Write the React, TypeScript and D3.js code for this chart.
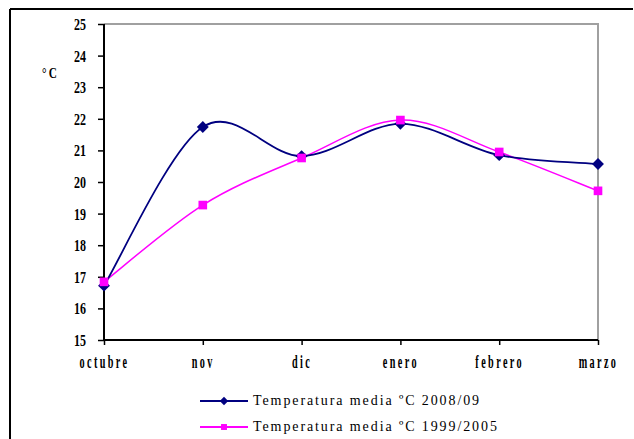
import React, { useEffect, useRef } from "react";
import * as d3 from "d3";

const months = ["octubre", "nov", "dic", "enero", "febrero", "marzo"];
const temp2008 = [16.72, 21.74, 20.82, 21.84, 20.85, 20.57];
const temp1999 = [16.84, 19.27, 20.76, 21.96, 20.95, 19.72];
const yTicks = [15, 16, 17, 18, 19, 20, 21, 22, 23, 24, 25];
const seriesNames = ["Temperatura media ºC 2008/09", "Temperatura media ºC 1999/2005"];

// Excel-style smoothed line: bezier control points at 1/6 of neighbour chord
const smoothPath = (pts: [number, number][]) => {
    const path = d3.path();
    path.moveTo(pts[0][0], pts[0][1]);
    for (let i = 0; i < pts.length - 1; i++) {
        const p0 = pts[Math.max(i - 1, 0)];
        const p1 = pts[i];
        const p2 = pts[i + 1];
        const p3 = pts[Math.min(i + 2, pts.length - 1)];
        path.bezierCurveTo(
            p1[0] + (p2[0] - p0[0]) / 6, p1[1] + (p2[1] - p0[1]) / 6,
            p2[0] - (p3[0] - p1[0]) / 6, p2[1] - (p3[1] - p1[1]) / 6,
            p2[0], p2[1]
        );
    }
    return path.toString();
};

const App: React.FC = () => {
    const svgRef = useRef<SVGSVGElement>(null);

    const width = 634;
    const height = 439;
    const plot = { left: 104, right: 598, top: 24, bottom: 340 };
    const navy = "#000080";
    const magenta = "#FF00FF";
    const serif = "'Liberation Serif', 'Times New Roman', serif";

    useEffect(() => {
        if (!svgRef.current) return;
        const svg = d3.select(svgRef.current);
        svg.selectAll("*").remove();

        const x = d3.scalePoint<string>().domain(months).range([plot.left, plot.right]);
        const y = d3.scaleLinear().domain([15, 25]).range([plot.bottom, plot.top]);

        // outer frame (only top and left show)
        svg.append("line").attr("x1", 10).attr("x2", 633).attr("y1", 9).attr("y2", 9)
            .attr("stroke", "#000").attr("stroke-width", 2);
        svg.append("line").attr("x1", 10).attr("x2", 10).attr("y1", 9).attr("y2", height)
            .attr("stroke", "#000").attr("stroke-width", 2);

        // plot area border, top + right
        svg.append("path")
            .attr("d", `M${plot.left},${plot.top}H${plot.right}V${plot.bottom}`)
            .attr("fill", "none").attr("stroke", "#a0a0a0").attr("stroke-width", 2);

        // y axis
        const yAxis = svg.append("g")
            .attr("transform", `translate(${plot.left},0)`)
            .call(d3.axisLeft(y).tickValues(yTicks).tickSize(6).tickFormat(d3.format("d")));
        yAxis.select(".domain").attr("stroke", "#000").attr("stroke-width", 2).attr("d", `M0,${plot.top}V${plot.bottom}`);
        yAxis.selectAll(".tick line").attr("stroke", "#000").attr("stroke-width", 1.5);
        yAxis.selectAll("text")
            .attr("x", null).attr("dy", null)
            .attr("transform", "translate(-18,5.5) scale(0.75,1.02)")
            .attr("font-family", serif).attr("font-weight", "bold").attr("font-size", 16)
            .attr("fill", "#000");

        // x axis
        const xAxis = svg.append("g")
            .attr("transform", `translate(0,${plot.bottom})`)
            .call(d3.axisBottom(x).tickSize(5));
        xAxis.select(".domain").attr("stroke", "#000").attr("stroke-width", 2).attr("d", `M${plot.left},0H${plot.right}`);
        xAxis.selectAll(".tick line").attr("stroke", "#000").attr("stroke-width", 1.5);
        xAxis.selectAll("text")
            .attr("y", null).attr("dy", null)
            .attr("transform", "translate(0,28) scale(0.6,1.05)")
            .attr("font-family", serif).attr("font-weight", "bold").attr("font-size", 17)
            .attr("letter-spacing", 4).attr("fill", "#000");

        // axis title
        svg.append("text")
            .attr("transform", "translate(42,78) scale(0.75,1)")
            .attr("font-family", serif).attr("font-weight", "bold").attr("font-size", 15)
            .attr("letter-spacing", 3).text("°C");

        const diamond = d3.symbol().type(d3.symbolDiamond2);
        const square = d3.symbol().type(d3.symbolSquare2);
        const toPts = (vals: number[]) =>
            vals.map((v, i) => [x(months[i]) as number, y(v)] as [number, number]);

        svg.append("path").attr("d", smoothPath(toPts(temp1999)))
            .attr("fill", "none").attr("stroke", magenta).attr("stroke-width", 1.5);
        svg.append("path").attr("d", smoothPath(toPts(temp2008)))
            .attr("fill", "none").attr("stroke", navy).attr("stroke-width", 1.8);

        svg.selectAll(".d").data(temp2008).enter().append("path")
            .attr("transform", (d, i) => `translate(${x(months[i])},${y(d)})`)
            .attr("d", diamond.size(90)()).attr("fill", navy);
        svg.selectAll(".s").data(temp1999).enter().append("path")
            .attr("transform", (d, i) => `translate(${x(months[i])},${y(d)})`)
            .attr("d", square.size(95)()).attr("fill", magenta);

        // legend
        const legend = svg.append("g");
        const rows = [
            { name: seriesNames[0], color: navy, sym: diamond.size(45)() },
            { name: seriesNames[1], color: magenta, sym: square.size(45)() },
        ];
        rows.forEach((r, i) => {
            const ly = 401 + i * 26;
            legend.append("line").attr("x1", 200).attr("x2", 248).attr("y1", ly).attr("y2", ly)
                .attr("stroke", r.color).attr("stroke-width", 1.8);
            legend.append("path").attr("transform", `translate(224,${ly})`).attr("d", r.sym).attr("fill", r.color);
            legend.append("text").attr("x", 253).attr("y", ly + 4)
                .attr("font-family", serif).attr("font-size", 14)
                .attr("letter-spacing", 1.9).attr("fill", "#000").text(r.name);
        });
    }, []);

    return (
        <svg
            ref={svgRef}
            width={width}
            height={height}
            style={{ position: "absolute", left: 0, top: 0, background: "#fff" }}
        />
    );
};

export default App;
